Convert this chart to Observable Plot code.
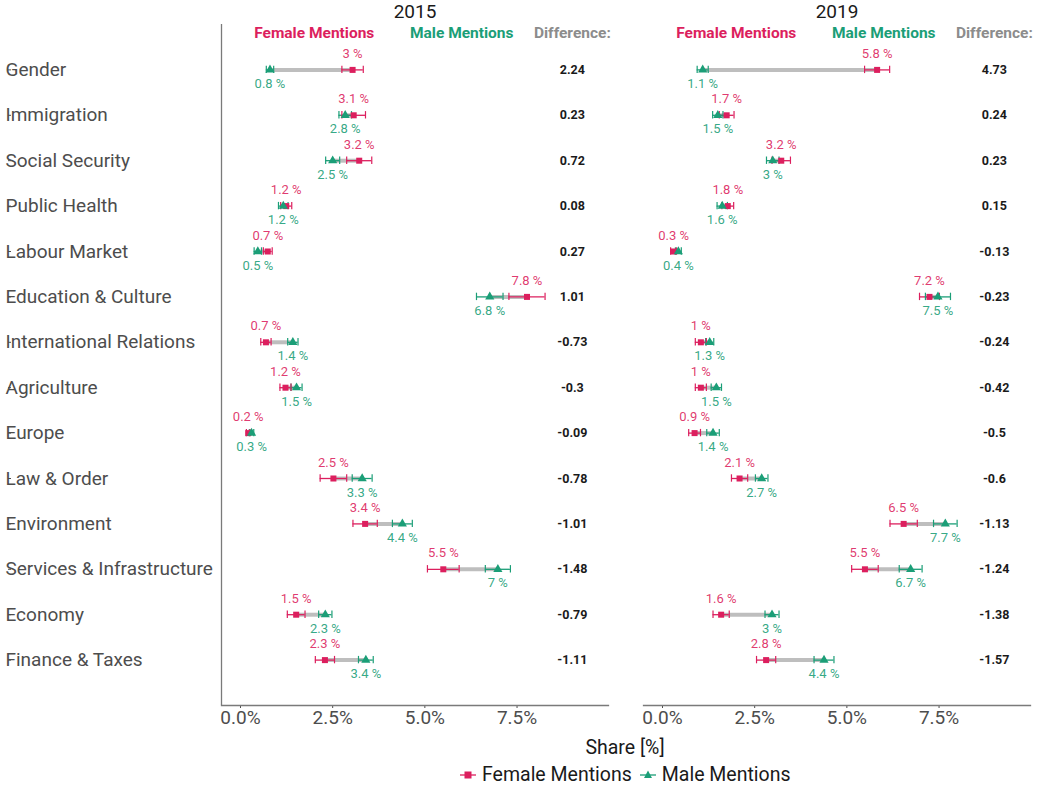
<!DOCTYPE html>
<html><head><meta charset="utf-8">
<script src="https://cdn.jsdelivr.net/npm/d3@7"></script>
<script src="https://cdn.jsdelivr.net/npm/@observablehq/plot@0.6"></script>
<style>
body{margin:0;background:#fff;font-family:Roboto,"Liberation Sans",sans-serif;}
#wrap{position:relative;width:1039px;height:787px;}
#xlabel{position:absolute;left:475px;width:300px;top:736px;text-align:center;font-size:19.5px;color:#1a1a1a;}
#legend{position:absolute;left:460px;top:763px;font-size:19.5px;color:#1a1a1a;display:flex;align-items:center;white-space:nowrap;}
#legend svg{margin-right:6px;}
#legend span{margin-right:8px;}
</style></head><body>
<div id="wrap"><div id="chart"></div><div id="xlabel">Share [%]</div><div id="legend"></div></div>
<script>
const topics = ["Gender","Immigration","Social Security","Public Health","Labour Market","Education & Culture","International Relations","Agriculture","Europe","Law & Order","Environment","Services & Infrastructure","Economy","Finance & Taxes"];
const years = ["2015","2019"];
const genders = ["Female Mentions","Male Mentions"];
const genderColors = ["#DC1F5E","#1B9E77"];

const female2015 = [3.04,3.07,3.22,1.24,0.74,7.77,0.69,1.22,0.21,2.52,3.38,5.50,1.51,2.29];
const male2015   = [0.80,2.84,2.50,1.16,0.47,6.76,1.42,1.52,0.30,3.30,4.39,6.98,2.30,3.40];
const female2015Err = [0.29,0.32,0.34,0.15,0.12,0.49,0.14,0.15,0.05,0.36,0.33,0.43,0.24,0.26];
const male2015Err   = [0.10,0.17,0.19,0.13,0.10,0.36,0.14,0.15,0.06,0.27,0.27,0.34,0.18,0.20];
const difference2015 = ["2.24","0.23","0.72","0.08","0.27","1.01","-0.73","-0.3","-0.09","-0.78","-1.01","-1.48","-0.79","-1.11"];

const female2019 = [5.82,1.74,3.22,1.77,0.30,7.24,1.04,1.04,0.87,2.09,6.54,5.49,1.59,2.81];
const male2019   = [1.09,1.50,2.99,1.62,0.43,7.47,1.28,1.46,1.37,2.69,7.67,6.73,2.97,4.38];
const female2019Err = [0.34,0.20,0.25,0.16,0.08,0.27,0.15,0.15,0.16,0.22,0.37,0.36,0.22,0.26];
const male2019Err   = [0.15,0.14,0.17,0.14,0.08,0.34,0.11,0.14,0.17,0.17,0.32,0.31,0.19,0.27];
const difference2019 = ["4.73","0.24","0.23","0.15","-0.13","-0.23","-0.24","-0.42","-0.5","-0.6","-1.13","-1.24","-1.38","-1.57"];

const xTicks = [0, 2.5, 5, 7.5];
const xDomain = [-0.515, 9.98];
const diffColumnX = 9;
const headers = [
  {label: "Female Mentions", x: 2.0, color: genderColors[0]},
  {label: "Male Mentions", x: 6.0, color: genderColors[1]},
  {label: "Difference:", x: 9.0, color: "#8c8c8c"}
];

const src = {
  "2015": {f: female2015, m: male2015, fe: female2015Err, me: male2015Err, d: difference2015},
  "2019": {f: female2019, m: male2019, fe: female2019Err, me: male2019Err, d: difference2019}
};
const rows = [], pairs = [];
const lab = v => `${+v.toFixed(1)} %`;
for (const year of years) {
  const s = src[year];
  topics.forEach((topic, i) => {
    rows.push({year, topic, gender: genders[0], value: s.f[i], err: s.fe[i], label: lab(s.f[i])});
    rows.push({year, topic, gender: genders[1], value: s.m[i], err: s.me[i], label: lab(s.m[i])});
    pairs.push({year, topic, female: s.f[i], male: s.m[i], diff: s.d[i]});
  });
}
const fem = rows.filter(d => d.gender === genders[0]);
const mal = rows.filter(d => d.gender === genders[1]);
const axisGrey = "#4d4d4d";
const lineGrey = "#7a7a7a";

const chart = Plot.plot({
  width: 1039, height: 735,
  marginLeft: 221, marginRight: 9, marginTop: 24, marginBottom: 30,
  style: {fontFamily: "Roboto, 'Liberation Sans', sans-serif", background: "#fff", overflow: "visible"},
  fx: {domain: years, paddingInner: 0.083, paddingOuter: 0, round: false, label: null},
  x: {domain: xDomain, label: null},
  y: {type: "band", domain: topics, paddingInner: 0, paddingOuter: 0.5, round: false, label: null},
  color: {domain: genders, range: genderColors},
  symbol: {domain: genders, range: ["square", "triangle"]},
  marks: [
    Plot.axisFx({anchor: "top", tickSize: 0, tickPadding: 7, fontSize: 19, color: "#1a1a1a", label: null}),
    Plot.axisY({anchor: "left", tickSize: 3, tickPadding: 3, textAnchor: "start", dx: -210, fontSize: 19, color: axisGrey, label: null}),
    Plot.axisX({anchor: "bottom", ticks: xTicks, tickFormat: d => d.toFixed(1) + "%", tickSize: 3, tickPadding: 2, fontSize: 19, color: axisGrey, label: null}),
    Plot.frame({anchor: "bottom", stroke: lineGrey, strokeWidth: 1.3}),
    Plot.ruleX([{year: "2015", x: xDomain[0]}], {fx: "year", x: "x", stroke: lineGrey, strokeWidth: 1.3}),
    Plot.ruleY(pairs, {fx: "year", y: "topic", x1: "female", x2: "male", stroke: "#bebebe", strokeWidth: 4}),
    Plot.ruleY(rows, {fx: "year", y: "topic", x1: d => d.value - d.err, x2: d => d.value + d.err, stroke: "gender", strokeWidth: 1.3}),
    Plot.tickX(rows, {fx: "year", y: "topic", x: d => d.value - d.err, stroke: "gender", strokeWidth: 1.2, insetTop: 19, insetBottom: 19}),
    Plot.tickX(rows, {fx: "year", y: "topic", x: d => d.value + d.err, stroke: "gender", strokeWidth: 1.2, insetTop: 19, insetBottom: 19}),
    Plot.dot(rows, {fx: "year", y: "topic", x: "value", symbol: "gender", fill: "gender", r: 3.4}),
    Plot.text(fem, {fx: "year", y: "topic", x: "value", text: "label", fill: genderColors[0], fillOpacity: 0.9, dy: -16, fontSize: 13}),
    Plot.text(mal, {fx: "year", y: "topic", x: "value", text: "label", fill: genderColors[1], fillOpacity: 0.9, dy: 14, fontSize: 13}),
    Plot.text(pairs, {fx: "year", y: "topic", x: () => diffColumnX, text: "diff", fontWeight: "bold", fontSize: 12.5, fill: "#1a1a1a"}),
    Plot.text(headers, {x: "x", text: "label", fill: "color", frameAnchor: "top", lineAnchor: "middle", dy: 9, fontWeight: "bold", fontSize: 15.5})
  ]
});
document.getElementById("chart").appendChild(chart);

const legend = document.getElementById("legend");
genders.forEach((g, i) => {
  const sym = i === 0
    ? `<rect x="4.5" y="4.5" width="7" height="7" fill="${genderColors[i]}"/>`
    : `<path d="M8,3.5 L12,11 L4,11 Z" fill="${genderColors[i]}"/>`;
  legend.insertAdjacentHTML("beforeend",
    `<svg width="16" height="16"><line x1="0" x2="16" y1="8" y2="8" stroke="${genderColors[i]}" stroke-width="1.3"/>${sym}</svg><span>${g}</span>`);
});
</script>
</body></html>
